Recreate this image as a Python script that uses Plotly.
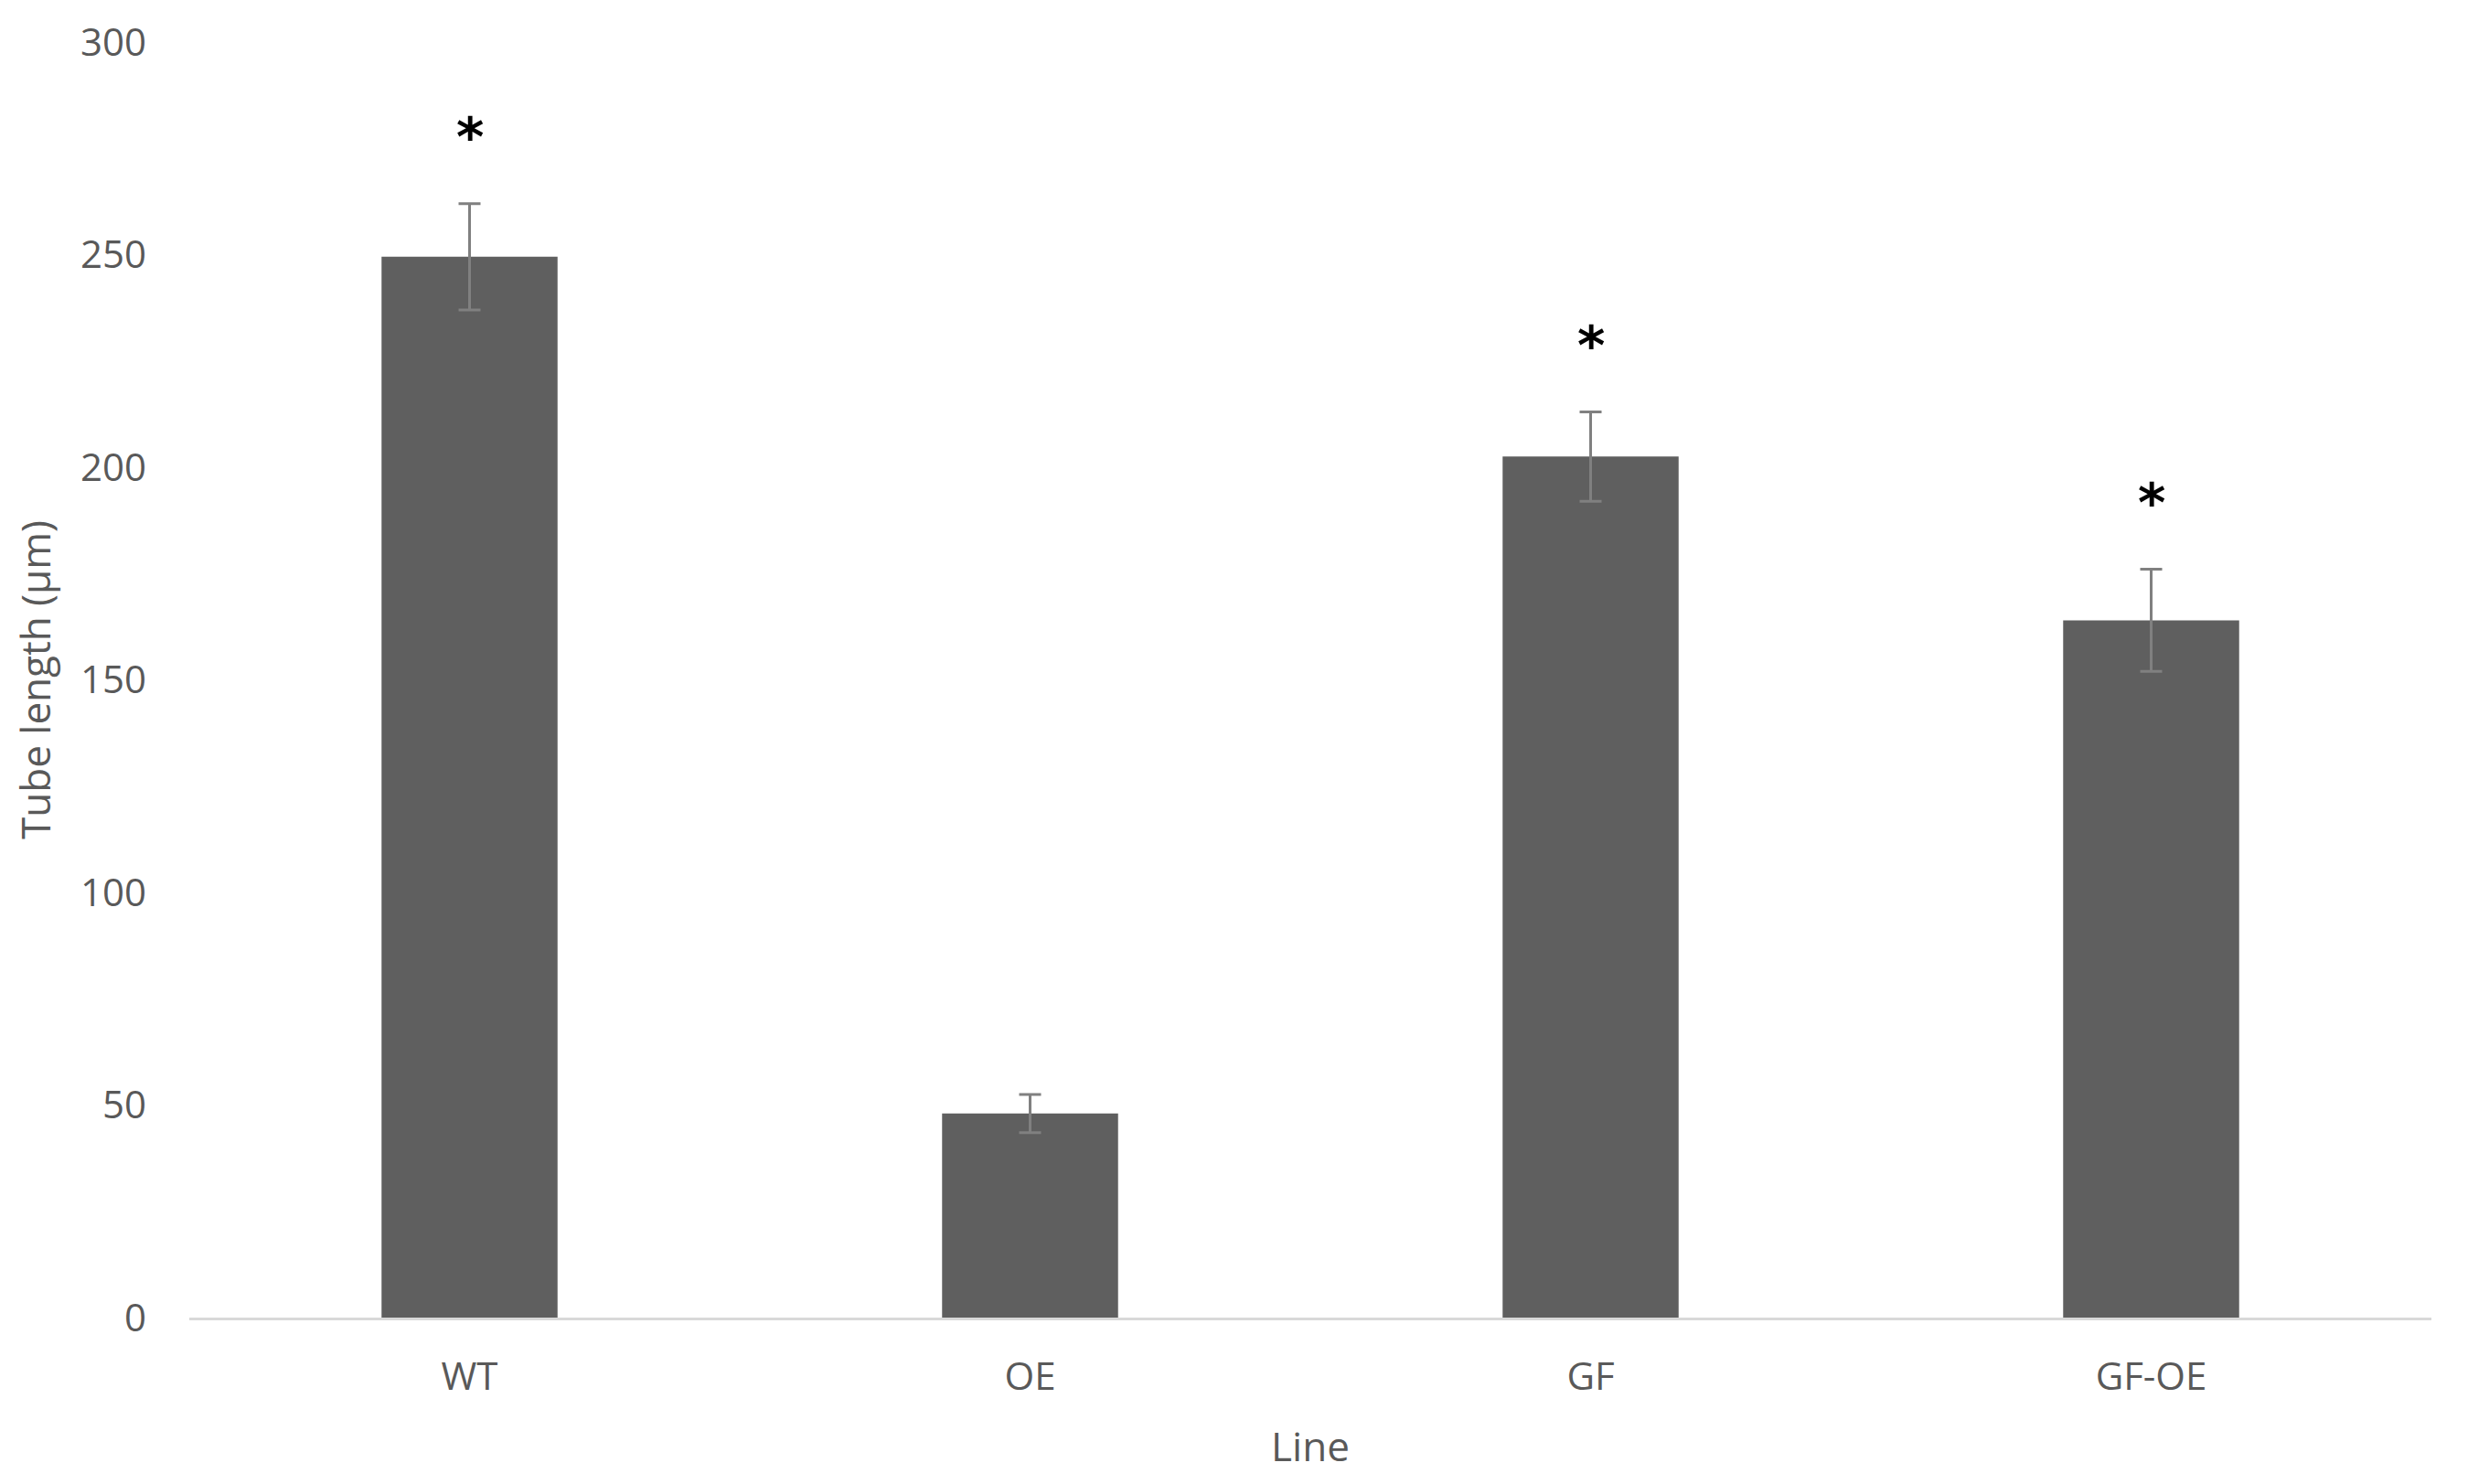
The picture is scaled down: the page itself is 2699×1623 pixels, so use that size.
import plotly.graph_objects as go

categories = ["WT", "OE", "GF", "GF-OE"]
tube_length = [249.5, 48, 202.5, 164]
error = [12.5, 4.5, 10.5, 12]
significance = ["*", "", "*", "*"]
y_ticks = [0, 50, 100, 150, 200, 250, 300]

fig = go.Figure()
fig.add_trace(go.Bar(
    x=categories,
    y=tube_length,
    marker=dict(color="#5f5f5f", line=dict(width=0)),
    error_y=dict(type="data", array=error, visible=True,
                 color="#808080", thickness=3, width=12),
    showlegend=False,
))

for cat, val, err, sig in zip(categories, tube_length, error, significance):
    if sig:
        fig.add_annotation(
            x=cat, y=val + err, text=sig, showarrow=False,
            yanchor="middle", yshift=73,
            font=dict(family="DejaVu Sans", size=58, color="black", weight="bold"),
        )

font = "Open Sans, Lato, sans-serif"
fig.update_layout(
    width=2699, height=1623,
    paper_bgcolor="white", plot_bgcolor="white",
    margin=dict(l=199, r=48, t=38, b=190),
    bargap=0.686,
    font=dict(family=font, color="#595959", size=42),
    xaxis=dict(
        title=dict(text="Line", font=dict(size=44, color="#595959"), standoff=36),
        showline=True, linecolor="#d9d9d9", linewidth=3,
        ticks="", tickfont=dict(size=42, color="#595959"), ticklabelstandoff=26,
        showgrid=False, zeroline=False, automargin=False,
    ),
    yaxis=dict(
        title=dict(text="Tube length (µm)", font=dict(size=44, color="#595959"), standoff=30),
        range=[0, 300], tickvals=y_ticks,
        showgrid=False, zeroline=False, showline=False, automargin=False,
        ticks="", tickfont=dict(size=42, color="#595959"), ticklabelstandoff=46,
    ),
)

fig.write_html("out.html")
